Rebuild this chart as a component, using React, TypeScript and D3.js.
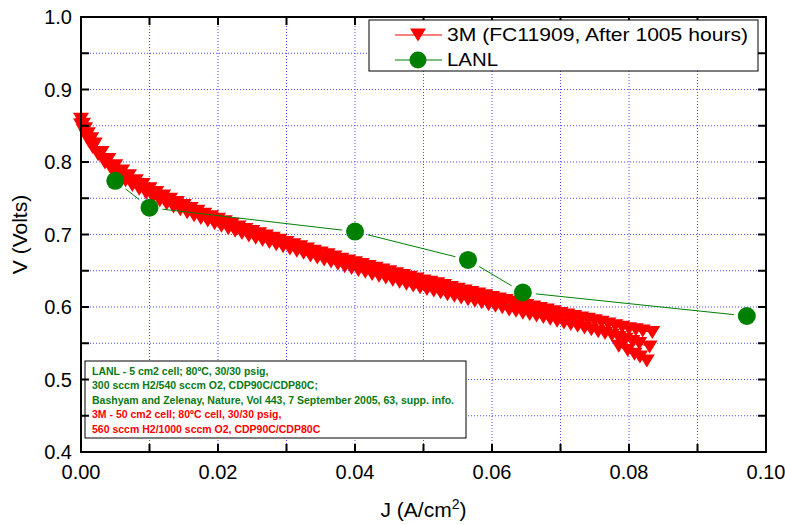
import React from 'react';
import * as d3 from 'd3';

// ---------- data ----------
// 3M (FC11909, After 1005 hours) – upper scan
const J_3M_A = [0, 0.0003, 0.0006, 0.001, 0.0015, 0.002, 0.003, 0.004, 0.005, 0.006, 0.007, 0.008, 0.009, 0.010,
  0.011, 0.012, 0.013, 0.014, 0.015, 0.016, 0.017, 0.018, 0.019, 0.020, 0.021, 0.022, 0.023, 0.024, 0.025,
  0.026, 0.027, 0.028, 0.029, 0.030, 0.031, 0.032, 0.033, 0.034, 0.035, 0.036, 0.037, 0.038, 0.039, 0.040,
  0.041, 0.042, 0.043, 0.044, 0.045, 0.046, 0.047, 0.048, 0.049, 0.050, 0.051, 0.052, 0.053, 0.054, 0.055,
  0.056, 0.057, 0.058, 0.059, 0.060, 0.061, 0.062, 0.063, 0.064, 0.065, 0.066, 0.067, 0.068, 0.069, 0.070,
  0.071, 0.072, 0.073, 0.074, 0.075, 0.076, 0.077, 0.078, 0.079, 0.080, 0.081, 0.082, 0.0834];
const V_3M_A = [0.859, 0.852, 0.846, 0.839, 0.832, 0.825, 0.813, 0.8035, 0.795, 0.7875, 0.781, 0.774, 0.769, 0.763,
  0.758, 0.753, 0.7485, 0.744, 0.740, 0.736, 0.732, 0.728, 0.7245, 0.721, 0.7175, 0.714, 0.7105, 0.707, 0.704,
  0.701, 0.698, 0.695, 0.692, 0.689, 0.686, 0.683, 0.680, 0.677, 0.6745, 0.672, 0.669, 0.666, 0.6635, 0.661,
  0.6585, 0.656, 0.6535, 0.651, 0.6485, 0.646, 0.6435, 0.641, 0.6385, 0.636, 0.634, 0.632, 0.6295, 0.627, 0.6245,
  0.622, 0.620, 0.618, 0.6155, 0.613, 0.611, 0.609, 0.6065, 0.604, 0.602, 0.600, 0.598, 0.596, 0.5935, 0.591,
  0.589, 0.587, 0.585, 0.583, 0.581, 0.579, 0.5765, 0.574, 0.572, 0.570, 0.5685, 0.567, 0.565];
// lower scan
const J_3M_B = [0, 0.0004, 0.0008, 0.0012, 0.0017, 0.0025, 0.0035, 0.0045, 0.0055, 0.0065, 0.0075, 0.0085, 0.0095,
  0.0105, 0.0115, 0.0125, 0.0135, 0.0145, 0.0155, 0.0165, 0.0175, 0.0185, 0.0195, 0.0205, 0.0215, 0.0225,
  0.0235, 0.0245, 0.0255, 0.0265, 0.0275, 0.0285, 0.0295, 0.0305, 0.0315, 0.0325, 0.0335, 0.0345, 0.0355,
  0.0365, 0.0375, 0.0385, 0.0395, 0.0405, 0.0415, 0.0425, 0.0435, 0.0445, 0.0455, 0.0465, 0.0475, 0.0485,
  0.0495, 0.0505, 0.0515, 0.0525, 0.0535, 0.0545, 0.0555, 0.0565, 0.0575, 0.0585, 0.0595, 0.0605, 0.0615,
  0.0625, 0.0635, 0.0645, 0.0655, 0.0665, 0.0675, 0.0685, 0.0695, 0.0705, 0.0715, 0.0725, 0.0735, 0.0745,
  0.0755, 0.0765, 0.0775, 0.0785, 0.0795, 0.0805, 0.0815, 0.083];
const V_3M_B = [0.851, 0.843, 0.836, 0.828, 0.820, 0.810, 0.7985, 0.789, 0.781, 0.774, 0.7675, 0.7625, 0.757,
  0.7515, 0.7465, 0.742, 0.738, 0.734, 0.730, 0.726, 0.722, 0.7185, 0.715, 0.7115, 0.708, 0.7045,
  0.7015, 0.698, 0.695, 0.692, 0.689, 0.686, 0.683, 0.680, 0.677, 0.674, 0.6705, 0.6675, 0.665,
  0.662, 0.659, 0.6555, 0.653, 0.6505, 0.648, 0.645, 0.6425, 0.640, 0.637, 0.634, 0.6315, 0.629,
  0.6265, 0.624, 0.622, 0.6195, 0.617, 0.615, 0.6125, 0.610, 0.608, 0.606, 0.603, 0.601, 0.599,
  0.596, 0.594, 0.5915, 0.5895, 0.5875, 0.5855, 0.583, 0.5805, 0.578, 0.576, 0.5735, 0.571, 0.5685,
  0.566, 0.5635, 0.561, 0.558, 0.5555, 0.5525, 0.5495, 0.545];
// tail of last scan
const J_3M_C = [0.0785, 0.0798, 0.0808, 0.0816, 0.0826];
const V_3M_C = [0.546, 0.540, 0.535, 0.531, 0.5255];

// LANL
const J_LANL = [0.005, 0.010, 0.040, 0.0565, 0.0645, 0.0972];
const V_LANL = [0.774, 0.737, 0.704, 0.665, 0.620, 0.5876];

const X_TICKS = [0, 0.02, 0.04, 0.06, 0.08, 0.10];
const X_MINOR = [0.01, 0.03, 0.05, 0.07, 0.09];
const Y_TICKS = [0.4, 0.5, 0.6, 0.7, 0.8, 0.9, 1.0];
const Y_MINOR = [0.45, 0.55, 0.65, 0.75, 0.85, 0.95];

const LEGEND_LABELS = ['3M (FC11909, After 1005 hours)', 'LANL'];
const NOTE_LINES = [
  { text: 'LANL - 5 cm2 cell; 80ºC, 30/30 psig,', c: 'g' },
  { text: '300 sccm H2/540 sccm O2, CDP90C/CDP80C;', c: 'g' },
  { text: 'Bashyam and Zelenay, Nature, Vol 443, 7 September 2005, 63, supp. info.', c: 'g' },
  { text: '3M - 50 cm2 cell; 80ºC cell, 30/30 psig,', c: 'r' },
  { text: '560 sccm H2/1000 sccm O2, CDP90C/CDP80C', c: 'r' },
];

const FONT = '"Liberation Sans", Arial, Helvetica, sans-serif';
const RED = '#ff0000';
const GREEN = '#008000';
const NOTE_GREEN = '#0a7a14';
const GRID = '#4a4aff';

const tri = 'M-8,-6.5L8,-6.5L0,6.5Z';

export default function App() {
  const L = 81, R = 766, T = 17, B = 452;
  const x = d3.scaleLinear().domain([0, 0.1]).range([L, R]);
  const y = d3.scaleLinear().domain([0.4, 1.0]).range([B, T]);

  const mk = (js: number[], vs: number[]) => js.map((j, i) => [j, vs[i]] as [number, number]);
  const sA = mk(J_3M_A, V_3M_A);
  const sB = mk(J_3M_B, V_3M_B);
  const sC = mk(J_3M_C, V_3M_C);
  const sL = mk(J_LANL, V_LANL);
  const line = d3.line<[number, number]>().x(d => x(d[0])).y(d => y(d[1]));

  const gap = 13;
  const greenSegs = sL.slice(1).map((p, i) => {
    const a = sL[i];
    const x1 = x(a[0]), y1 = y(a[1]), x2 = x(p[0]), y2 = y(p[1]);
    const dx = x2 - x1, dy = y2 - y1, len = Math.hypot(dx, dy);
    const ux = dx / len, uy = dy / len;
    return { x1: x1 + ux * gap, y1: y1 + uy * gap, x2: x2 - ux * gap, y2: y2 - uy * gap };
  });

  const allX = [...X_TICKS, ...X_MINOR];
  const allY = [...Y_TICKS, ...Y_MINOR];

  return (
    <svg width={785} height={524} style={{ position: 'absolute', left: 0, top: 0, background: '#fff' }}
      fontFamily={FONT}>
      <rect x={0} y={0} width={785} height={524} fill="#fff" />
      {/* grid */}
      <g stroke={GRID} strokeWidth={1} strokeDasharray="1,2">
        {allX.filter(v => v > 0 && v < 0.1).map(v => (
          <line key={'gx' + v} x1={x(v)} x2={x(v)} y1={T} y2={B} />
        ))}
        {allY.filter(v => v > 0.4 && v < 1.0).map(v => (
          <line key={'gy' + v} x1={L} x2={R} y1={y(v)} y2={y(v)} />
        ))}
      </g>

      {/* 3M series */}
      <g>
        <path d={line(sA) || ''} fill="none" stroke={RED} strokeWidth={1} />
        <path d={line(sB) || ''} fill="none" stroke={RED} strokeWidth={1} />
        <path d={line(sC) || ''} fill="none" stroke={RED} strokeWidth={1} />
        {[...sA, ...sB, ...sC].map((d, i) => (
          <path key={'t' + i} d={tri} transform={`translate(${x(d[0])},${y(d[1])})`} fill={RED} />
        ))}
      </g>

      {/* LANL series */}
      <g>
        {greenSegs.map((s, i) => (
          <line key={'gs' + i} {...s} stroke={GREEN} strokeWidth={1} />
        ))}
        {sL.map((d, i) => (
          <circle key={'c' + i} cx={x(d[0])} cy={y(d[1])} r={9} fill={GREEN} />
        ))}
      </g>

      {/* annotation box */}
      <rect x={85} y={361} width={381} height={77} fill="#fff" stroke="#000" strokeWidth={1} />
      {NOTE_LINES.map((l, i) => (
        <text key={'n' + i} x={92} y={375 + i * 14.4} fontSize={10.5} fontWeight="bold"
          fill={l.c === 'g' ? NOTE_GREEN : RED}>{l.text}</text>
      ))}

      {/* frame */}
      <rect x={L} y={T} width={R - L} height={B - T} fill="none" stroke="#000" strokeWidth={2} />

      {/* ticks */}
      <g stroke="#000" strokeWidth={2}>
        {allX.map(v => (
          <g key={'tx' + v}>
            <line x1={x(v)} x2={x(v)} y1={B} y2={B - 8} />
            <line x1={x(v)} x2={x(v)} y1={T} y2={T + 8} />
          </g>
        ))}
        {allY.map(v => (
          <g key={'ty' + v}>
            <line x1={L} x2={L + 8} y1={y(v)} y2={y(v)} />
            <line x1={R} x2={R - 8} y1={y(v)} y2={y(v)} />
          </g>
        ))}
      </g>

      {/* tick labels */}
      {X_TICKS.map(v => (
        <text key={'lx' + v} x={x(v)} y={479} fontSize={20} textAnchor="middle" fill="#000">{v.toFixed(2)}</text>
      ))}
      {Y_TICKS.map(v => (
        <text key={'ly' + v} x={72} y={y(v) + 7} fontSize={20} textAnchor="end" fill="#000">{v.toFixed(1)}</text>
      ))}

      {/* axis titles */}
      <text x={(L + R) / 2} y={517} fontSize={21} textAnchor="middle" fill="#000">
        J (A/cm<tspan dy={-8} fontSize={14}>2</tspan><tspan dy={8}>)</tspan>
      </text>
      <text transform={`translate(27,${(T + B) / 2}) rotate(-90)`} fontSize={21} textAnchor="middle" fill="#000">V (Volts)</text>

      {/* legend */}
      <rect x={369} y={20} width={389} height={51} fill="#fff" stroke="#000" strokeWidth={1} />
      <line x1={395} x2={442} y1={35} y2={35} stroke={RED} strokeWidth={1} />
      <path d={tri} transform="translate(418,35)" fill={RED} />
      <text x={447} y={41} fontSize={19} textLength={301} lengthAdjust="spacingAndGlyphs" fill="#000">{LEGEND_LABELS[0]}</text>
      <line x1={395} x2={442} y1={60} y2={60} stroke={GREEN} strokeWidth={1} />
      <circle cx={418} cy={60} r={8.5} fill={GREEN} />
      <text x={447} y={65.5} fontSize={19} textLength={51} lengthAdjust="spacingAndGlyphs" fill="#000">{LEGEND_LABELS[1]}</text>
    </svg>
  );
}
